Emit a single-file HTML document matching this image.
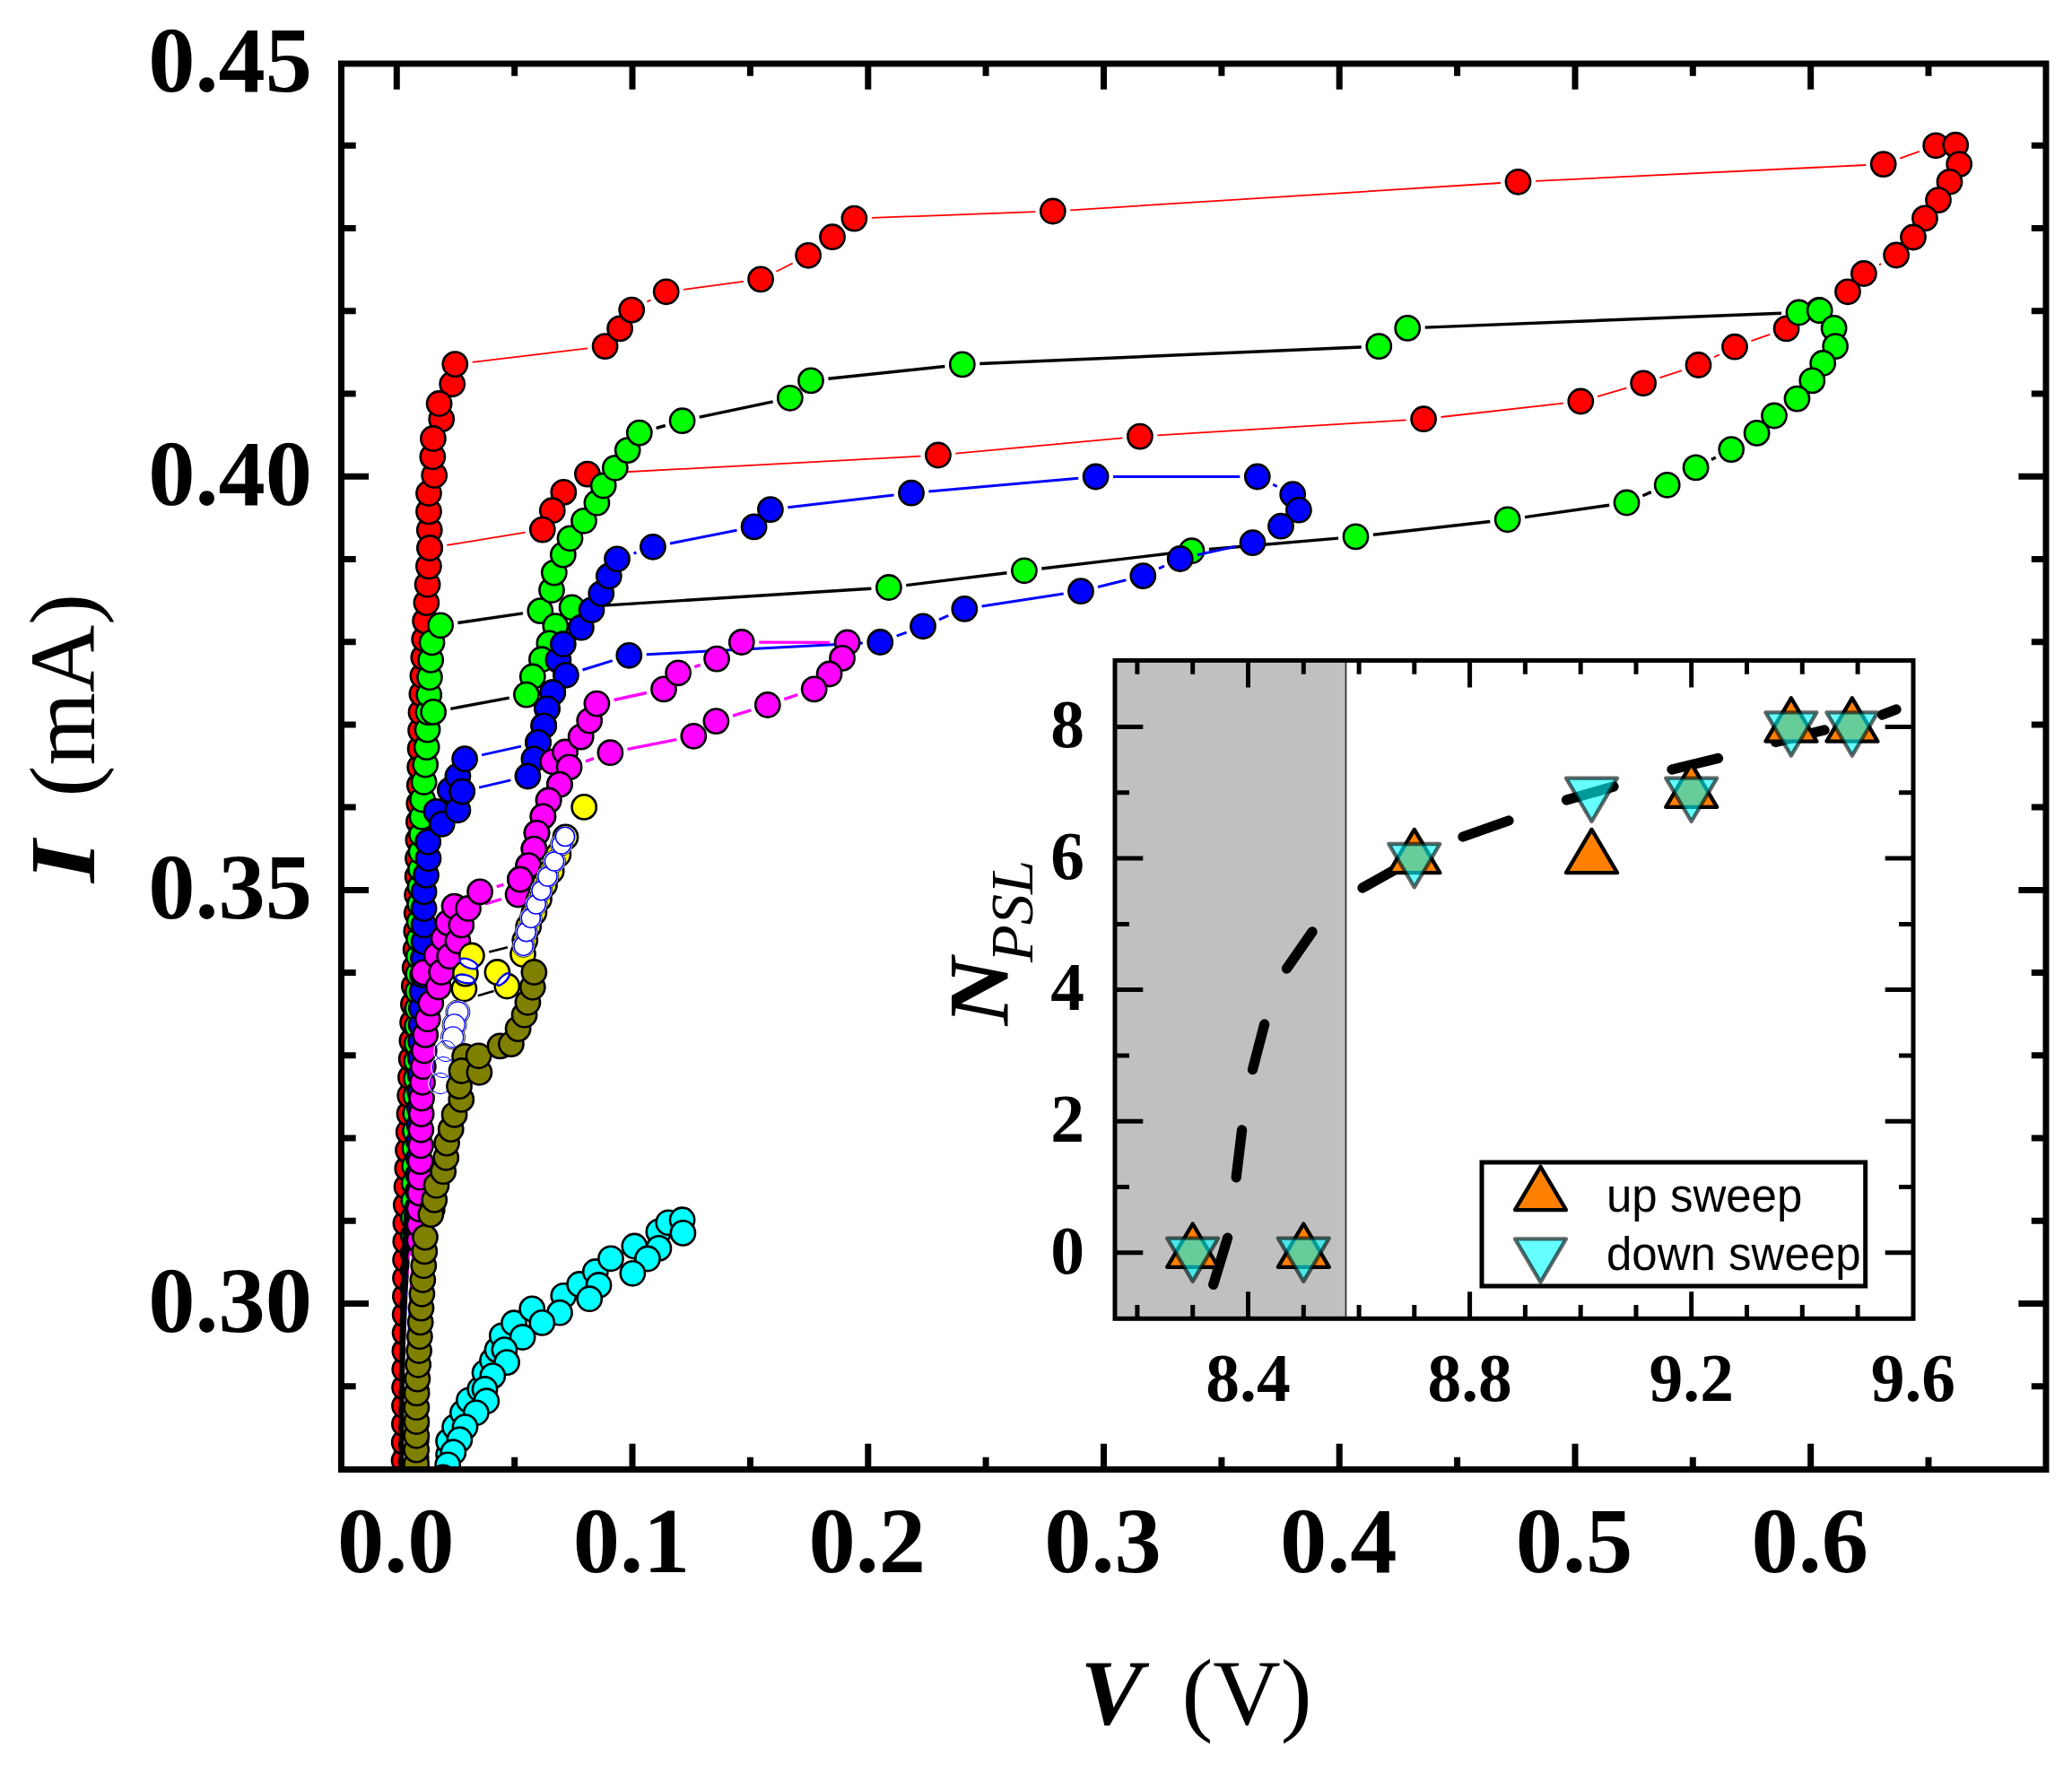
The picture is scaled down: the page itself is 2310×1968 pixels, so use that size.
<!DOCTYPE html>
<html lang="en"><head><meta charset="utf-8"><title>I-V curves</title>
<style>html,body{margin:0;padding:0;background:#fff}svg{display:block}</style></head>
<body>
<svg width="2310" height="1968" viewBox="0 0 2310 1968">
<rect width="2310" height="1968" fill="#fff"/>
<defs><clipPath id="pc"><rect x="380.5" y="71" width="1900.5" height="1567.5"/></clipPath></defs>
<g stroke="#000" stroke-width="7" fill="none" stroke-linecap="butt">
<path d="M442.3 1638.5v-28.8M442.3 71v28.8M573.7 1638.5v-13.8M573.7 71v13.8M705 1638.5v-28.8M705 71v28.8M836.4 1638.5v-13.8M836.4 71v13.8M967.8 1638.5v-28.8M967.8 71v28.8M1099.1 1638.5v-13.8M1099.1 71v13.8M1230.5 1638.5v-28.8M1230.5 71v28.8M1361.9 1638.5v-13.8M1361.9 71v13.8M1493.2 1638.5v-28.8M1493.2 71v28.8M1624.6 1638.5v-13.8M1624.6 71v13.8M1756 1638.5v-28.8M1756 71v28.8M1887.3 1638.5v-13.8M1887.3 71v13.8M2018.7 1638.5v-28.8M2018.7 71v28.8M2150 1638.5v-13.8M2150 71v13.8M380.5 1545.7h16.2M2281 1545.7h-16.2M380.5 1453.5h30.6M2281 1453.5h-30.6M380.5 1361.3h16.2M2281 1361.3h-16.2M380.5 1269h16.2M2281 1269h-16.2M380.5 1176.8h16.2M2281 1176.8h-16.2M380.5 1084.6h16.2M2281 1084.6h-16.2M380.5 992.4h30.6M2281 992.4h-30.6M380.5 900.1h16.2M2281 900.1h-16.2M380.5 807.9h16.2M2281 807.9h-16.2M380.5 715.7h16.2M2281 715.7h-16.2M380.5 623.4h16.2M2281 623.4h-16.2M380.5 531.2h30.6M2281 531.2h-30.6M380.5 439h16.2M2281 439h-16.2M380.5 346.7h16.2M2281 346.7h-16.2M380.5 254.5h16.2M2281 254.5h-16.2M380.5 162.3h16.2M2281 162.3h-16.2"/>
</g>
<g clip-path="url(#pc)">
<path d="M526.7 403.8L655.2 388.4M721.4 336.5L725.5 334.4M762 322.8L828.8 313.9M865.5 302.7L883.7 293.5M971.9 242.9L1154.3 236.2M1193.3 234.3L1673 204M1712 201.9L2080.2 184M2118.1 176.6L2139.8 168.8M2097.1 294.1L2094.9 295.4M2011 355.4L2008.6 356.8M1973.2 372.9L1952.4 380.2M1916.6 395.4L1910.9 398.3M1875 413.1L1850.6 421.2M1813.4 432.7L1781 442.1M1742.9 449.7L1606.5 465M1567.6 468.4L1290.4 485.4M1251.5 488.4L1065.3 505.7M1026.4 508.6L674.4 527.5M585.6 593.7L498.3 607.9" fill="none" stroke="#f00" stroke-width="1.8"/>
<g fill="#f00" stroke="#000" stroke-width="2.6"><circle cx="450.5" cy="1648.9" r="13.6"/><circle cx="450.6" cy="1628.5" r="13.6"/><circle cx="450.7" cy="1608.2" r="13.6"/><circle cx="450.9" cy="1587.8" r="13.6"/><circle cx="451" cy="1567.5" r="13.6"/><circle cx="451.1" cy="1547.1" r="13.6"/><circle cx="451.3" cy="1526.8" r="13.6"/><circle cx="451.4" cy="1506.4" r="13.6"/><circle cx="451.6" cy="1486.1" r="13.6"/><circle cx="451.7" cy="1465.7" r="13.6"/><circle cx="451.9" cy="1445.4" r="13.6"/><circle cx="452" cy="1425" r="13.6"/><circle cx="452.1" cy="1404.7" r="13.6"/><circle cx="452.3" cy="1384.3" r="13.6"/><circle cx="452.4" cy="1364" r="13.6"/><circle cx="452.8" cy="1343.6" r="13.6"/><circle cx="453.5" cy="1323.2" r="13.6"/><circle cx="454.3" cy="1302.9" r="13.6"/><circle cx="455" cy="1282.6" r="13.6"/><circle cx="455.7" cy="1262.2" r="13.6"/><circle cx="456.5" cy="1241.9" r="13.6"/><circle cx="457.2" cy="1221.5" r="13.6"/><circle cx="457.9" cy="1201.2" r="13.6"/><circle cx="458.7" cy="1180.8" r="13.6"/><circle cx="459.4" cy="1160.5" r="13.6"/><circle cx="460.1" cy="1140.1" r="13.6"/><circle cx="460.9" cy="1119.8" r="13.6"/><circle cx="461.8" cy="1099.4" r="13.6"/><circle cx="462.7" cy="1079.1" r="13.6"/><circle cx="463.6" cy="1058.7" r="13.6"/><circle cx="464.3" cy="1038.4" r="13.6"/><circle cx="464.7" cy="1018" r="13.6"/><circle cx="465.1" cy="997.7" r="13.6"/><circle cx="465.6" cy="977.3" r="13.6"/><circle cx="466" cy="957" r="13.6"/><circle cx="466.4" cy="936.6" r="13.6"/><circle cx="466.9" cy="916.3" r="13.6"/><circle cx="467.3" cy="895.9" r="13.6"/><circle cx="467.8" cy="875.6" r="13.6"/><circle cx="468.2" cy="855.2" r="13.6"/><circle cx="468.6" cy="834.9" r="13.6"/><circle cx="469.1" cy="814.5" r="13.6"/><circle cx="469.5" cy="794.2" r="13.6"/><circle cx="470.4" cy="773.8" r="13.6"/><circle cx="471.4" cy="753.5" r="13.6"/><circle cx="472.3" cy="733.1" r="13.6"/><circle cx="473.2" cy="712.8" r="13.6"/><circle cx="474.1" cy="692.4" r="13.6"/><circle cx="475.4" cy="672.1" r="13.6"/><circle cx="476.6" cy="651.7" r="13.6"/><circle cx="477.9" cy="631.4" r="13.6"/><circle cx="479.1" cy="611" r="13.6"/><circle cx="478.8" cy="591" r="13.6"/><circle cx="478" cy="570.4" r="13.6"/><circle cx="478" cy="550" r="13.6"/><circle cx="484.2" cy="530" r="13.6"/><circle cx="482.3" cy="509.4" r="13.6"/><circle cx="492.2" cy="467.4" r="13.6"/><circle cx="482.9" cy="489" r="13.6"/><circle cx="504.2" cy="428.3" r="13.6"/><circle cx="489.6" cy="450" r="13.6"/><circle cx="507.3" cy="406.1" r="13.6"/><circle cx="674.6" cy="386.1" r="13.6"/><circle cx="691.1" cy="366.4" r="13.6"/><circle cx="704.2" cy="345.6" r="13.6"/><circle cx="742.7" cy="325.3" r="13.6"/><circle cx="848.1" cy="311.4" r="13.6"/><circle cx="901.1" cy="284.8" r="13.6"/><circle cx="928" cy="264.2" r="13.6"/><circle cx="952.4" cy="243.6" r="13.6"/><circle cx="1173.8" cy="235.5" r="13.6"/><circle cx="1692.5" cy="202.8" r="13.6"/><circle cx="2099.7" cy="183.1" r="13.6"/><circle cx="2158.2" cy="162.3" r="13.6"/><circle cx="2180.2" cy="161.7" r="13.6"/><circle cx="2184.2" cy="183.1" r="13.6"/><circle cx="2173.5" cy="202.8" r="13.6"/><circle cx="2161" cy="223.1" r="13.6"/><circle cx="2146" cy="243.4" r="13.6"/><circle cx="2133" cy="264.5" r="13.6"/><circle cx="2114.1" cy="284.5" r="13.6"/><circle cx="2077.9" cy="305" r="13.6"/><circle cx="2060" cy="325.3" r="13.6"/><circle cx="2028" cy="345.8" r="13.6"/><circle cx="1991.6" cy="366.4" r="13.6"/><circle cx="1934" cy="386.7" r="13.6"/><circle cx="1893.5" cy="407" r="13.6"/><circle cx="1832.1" cy="427.3" r="13.6"/><circle cx="1762.3" cy="447.5" r="13.6"/><circle cx="1587.1" cy="467.2" r="13.6"/><circle cx="1270.9" cy="486.6" r="13.6"/><circle cx="1045.9" cy="507.5" r="13.6"/><circle cx="654.9" cy="528.6" r="13.6"/><circle cx="628.3" cy="548.9" r="13.6"/><circle cx="615.8" cy="569.2" r="13.6"/><circle cx="604.8" cy="590.6" r="13.6"/><circle cx="479.1" cy="611" r="13.6"/></g>
<path d="M510.4 694.5L583 683.9M731.6 477.3L741.8 474.5M779.7 465.2L861.7 447.8M923.4 422.3L1053.4 408.5M1092.3 405.5L1517.8 387M1588.7 365.1L1986 349.3M1912.8 510L1908 512.5M1840.8 548.6L1831.4 552.7M1794.2 563.2L1700 576.6M1661.3 581.5L1530.9 596.2M1492.1 600.1L1347.9 612.5M1309.1 616.5L1161.3 634M1122.5 638.7L1010.3 652.6M971.4 656.2L657.1 676.1M567.7 778.2L502.3 790.3" fill="none" stroke="#000" stroke-width="3.4"/>
<g fill="#0f0" stroke="#000" stroke-width="2.6"><circle cx="458.5" cy="1650" r="13.6"/><circle cx="458.7" cy="1630.5" r="13.6"/><circle cx="458.8" cy="1611.1" r="13.6"/><circle cx="459" cy="1591.7" r="13.6"/><circle cx="459.2" cy="1572.2" r="13.6"/><circle cx="459.3" cy="1552.8" r="13.6"/><circle cx="459.5" cy="1533.3" r="13.6"/><circle cx="459.6" cy="1513.8" r="13.6"/><circle cx="459.8" cy="1494.4" r="13.6"/><circle cx="460" cy="1475" r="13.6"/><circle cx="460.1" cy="1455.5" r="13.6"/><circle cx="460.3" cy="1436" r="13.6"/><circle cx="460.5" cy="1416.6" r="13.6"/><circle cx="460.6" cy="1397.2" r="13.6"/><circle cx="460.8" cy="1377.7" r="13.6"/><circle cx="460.9" cy="1358.2" r="13.6"/><circle cx="461.3" cy="1338.8" r="13.6"/><circle cx="461.6" cy="1319.3" r="13.6"/><circle cx="462" cy="1299.9" r="13.6"/><circle cx="462.4" cy="1280.5" r="13.6"/><circle cx="462.8" cy="1261" r="13.6"/><circle cx="463.2" cy="1241.5" r="13.6"/><circle cx="463.5" cy="1222.1" r="13.6"/><circle cx="463.9" cy="1202.7" r="13.6"/><circle cx="464.3" cy="1183.2" r="13.6"/><circle cx="464.7" cy="1163.8" r="13.6"/><circle cx="465" cy="1144.3" r="13.6"/><circle cx="465.4" cy="1124.8" r="13.6"/><circle cx="465.8" cy="1105.4" r="13.6"/><circle cx="466.2" cy="1086" r="13.6"/><circle cx="466.7" cy="1066.5" r="13.6"/><circle cx="467.1" cy="1047.1" r="13.6"/><circle cx="467.6" cy="1027.6" r="13.6"/><circle cx="468.1" cy="1008.1" r="13.6"/><circle cx="468.5" cy="988.7" r="13.6"/><circle cx="469" cy="969.2" r="13.6"/><circle cx="469.5" cy="949.8" r="13.6"/><circle cx="470" cy="930.4" r="13.6"/><circle cx="470.5" cy="910.9" r="13.6"/><circle cx="471" cy="891.5" r="13.6"/><circle cx="472.6" cy="872" r="13.6"/><circle cx="474.2" cy="852.6" r="13.6"/><circle cx="475.7" cy="833.1" r="13.6"/><circle cx="476.6" cy="813.6" r="13.6"/><circle cx="477.4" cy="794.2" r="13.6"/><circle cx="478.2" cy="774.8" r="13.6"/><circle cx="479" cy="755.3" r="13.6"/><circle cx="480.2" cy="735.9" r="13.6"/><circle cx="481.5" cy="716.4" r="13.6"/><circle cx="491.1" cy="697.3" r="13.6"/><circle cx="602.3" cy="681.1" r="13.6"/><circle cx="615" cy="658" r="13.6"/><circle cx="617.8" cy="638.6" r="13.6"/><circle cx="627.8" cy="618.6" r="13.6"/><circle cx="635.5" cy="600.3" r="13.6"/><circle cx="651" cy="580.8" r="13.6"/><circle cx="665.4" cy="560.7" r="13.6"/><circle cx="672.7" cy="541.5" r="13.6"/><circle cx="685.8" cy="521.8" r="13.6"/><circle cx="699.7" cy="502.1" r="13.6"/><circle cx="712.8" cy="482.6" r="13.6"/><circle cx="760.6" cy="469.2" r="13.6"/><circle cx="880.8" cy="443.8" r="13.6"/><circle cx="904" cy="424.4" r="13.6"/><circle cx="1072.8" cy="406.4" r="13.6"/><circle cx="1537.3" cy="386.1" r="13.6"/><circle cx="1569.2" cy="365.9" r="13.6"/><circle cx="2005.5" cy="348.5" r="13.6"/><circle cx="2028.7" cy="346.2" r="13.6"/><circle cx="2044.6" cy="365.9" r="13.6"/><circle cx="2046.1" cy="386.1" r="13.6"/><circle cx="2032.2" cy="405" r="13.6"/><circle cx="2020.3" cy="424.4" r="13.6"/><circle cx="2003.5" cy="444.6" r="13.6"/><circle cx="1978" cy="463.5" r="13.6"/><circle cx="1958.6" cy="482.9" r="13.6"/><circle cx="1930.2" cy="501.1" r="13.6"/><circle cx="1890.6" cy="521.4" r="13.6"/><circle cx="1858.7" cy="540.8" r="13.6"/><circle cx="1813.5" cy="560.5" r="13.6"/><circle cx="1680.7" cy="579.3" r="13.6"/><circle cx="1511.5" cy="598.4" r="13.6"/><circle cx="1328.5" cy="614.2" r="13.6"/><circle cx="1141.9" cy="636.3" r="13.6"/><circle cx="990.9" cy="655" r="13.6"/><circle cx="637.6" cy="677.3" r="13.6"/><circle cx="619.3" cy="698.1" r="13.6"/><circle cx="612.4" cy="717.4" r="13.6"/><circle cx="603.9" cy="735.2" r="13.6"/><circle cx="593.8" cy="754.5" r="13.6"/><circle cx="586.9" cy="774.6" r="13.6"/><circle cx="483.1" cy="793.9" r="13.6"/></g>
<path d="M447.8 1645L448 1560L449 1480L451 1400L453.5 1352" stroke="#000" stroke-width="6.5" fill="none"/>
<path d="M537.1 841.9L581 832.1M706.5 617.1L709.4 616M747 606L821.5 591.2M878.3 565.8L996.6 552M1035.4 548L1202.2 533.2M1241.1 531.5L1382.3 531.5M1419.2 540.2L1423.8 542.5M1377.5 609.4L1334.7 618.8M1298 631.2L1292 633.9M1255.4 646.8L1223.9 654.5M1185.7 662.1L1094.6 676M1057.3 686.4L1047 690.8M1010.7 705.1L999.6 709.2M961.8 717L720.8 729.8M682.7 736.6L649.5 747M569.4 869.9L534.1 878.1" fill="none" stroke="#00f" stroke-width="3"/>
<g fill="#00f" stroke="#000" stroke-width="2.6"><circle cx="463.5" cy="1643.7" r="13.6"/><circle cx="463.7" cy="1625.1" r="13.6"/><circle cx="463.8" cy="1606.6" r="13.6"/><circle cx="463.9" cy="1588" r="13.6"/><circle cx="464" cy="1569.5" r="13.6"/><circle cx="464.2" cy="1550.9" r="13.6"/><circle cx="464.3" cy="1532.4" r="13.6"/><circle cx="464.4" cy="1513.8" r="13.6"/><circle cx="464.5" cy="1495.3" r="13.6"/><circle cx="464.7" cy="1476.7" r="13.6"/><circle cx="464.8" cy="1458.2" r="13.6"/><circle cx="464.9" cy="1439.6" r="13.6"/><circle cx="465" cy="1421.1" r="13.6"/><circle cx="465.2" cy="1402.5" r="13.6"/><circle cx="465.3" cy="1384" r="13.6"/><circle cx="465.4" cy="1365.4" r="13.6"/><circle cx="465.6" cy="1346.9" r="13.6"/><circle cx="466" cy="1328.3" r="13.6"/><circle cx="466.3" cy="1309.8" r="13.6"/><circle cx="466.7" cy="1291.2" r="13.6"/><circle cx="467" cy="1272.7" r="13.6"/><circle cx="467.4" cy="1254.1" r="13.6"/><circle cx="467.8" cy="1235.6" r="13.6"/><circle cx="468.1" cy="1217" r="13.6"/><circle cx="468.5" cy="1198.5" r="13.6"/><circle cx="468.9" cy="1179.9" r="13.6"/><circle cx="469.2" cy="1161.4" r="13.6"/><circle cx="469.6" cy="1142.8" r="13.6"/><circle cx="469.9" cy="1124.3" r="13.6"/><circle cx="470.6" cy="1105.7" r="13.6"/><circle cx="471.2" cy="1087.2" r="13.6"/><circle cx="471.9" cy="1068.6" r="13.6"/><circle cx="472.6" cy="1050.1" r="13.6"/><circle cx="472.6" cy="1031.5" r="13.6"/><circle cx="472.6" cy="1013" r="13.6"/><circle cx="472.6" cy="994.4" r="13.6"/><circle cx="475" cy="975.9" r="13.6"/><circle cx="477.5" cy="957.3" r="13.6"/><circle cx="477.2" cy="938.8" r="13.6"/><circle cx="486.5" cy="904.9" r="13.6"/><circle cx="492.7" cy="918.8" r="13.6"/><circle cx="501.9" cy="880.9" r="13.6"/><circle cx="510.4" cy="903.3" r="13.6"/><circle cx="515.1" cy="882.5" r="13.6"/><circle cx="510.4" cy="865.5" r="13.6"/><circle cx="518.1" cy="846.2" r="13.6"/><circle cx="600" cy="827.8" r="13.6"/><circle cx="606.2" cy="809.3" r="13.6"/><circle cx="610" cy="790.3" r="13.6"/><circle cx="616.2" cy="772.2" r="13.6"/><circle cx="622.4" cy="735.9" r="13.6"/><circle cx="627.8" cy="718.2" r="13.6"/><circle cx="647.9" cy="699.7" r="13.6"/><circle cx="659.5" cy="680.3" r="13.6"/><circle cx="670.3" cy="661.8" r="13.6"/><circle cx="678.8" cy="642.5" r="13.6"/><circle cx="688" cy="623.3" r="13.6"/><circle cx="727.9" cy="609.8" r="13.6"/><circle cx="840.6" cy="587.4" r="13.6"/><circle cx="858.9" cy="568.1" r="13.6"/><circle cx="1016" cy="549.7" r="13.6"/><circle cx="1221.6" cy="531.5" r="13.6"/><circle cx="1401.8" cy="531.5" r="13.6"/><circle cx="1441.2" cy="551.2" r="13.6"/><circle cx="1447.9" cy="568.7" r="13.6"/><circle cx="1428" cy="586.7" r="13.6"/><circle cx="1396.5" cy="605.2" r="13.6"/><circle cx="1315.7" cy="623" r="13.6"/><circle cx="1274.3" cy="642.1" r="13.6"/><circle cx="1205" cy="659.2" r="13.6"/><circle cx="1075.3" cy="678.9" r="13.6"/><circle cx="1029" cy="698.3" r="13.6"/><circle cx="981.3" cy="716" r="13.6"/><circle cx="701.3" cy="730.8" r="13.6"/><circle cx="630.9" cy="752.8" r="13.6"/><circle cx="616.2" cy="772.2" r="13.6"/><circle cx="610" cy="790.3" r="13.6"/><circle cx="606.2" cy="809.3" r="13.6"/><circle cx="600" cy="827.8" r="13.6"/><circle cx="595.4" cy="846.3" r="13.6"/><circle cx="588.4" cy="865.5" r="13.6"/><circle cx="515.1" cy="882.5" r="13.6"/></g>
<g fill="#f0f" stroke="#000" stroke-width="2.6"><circle cx="472.4" cy="1084.4" r="13.6"/><circle cx="486.7" cy="1065.4" r="13.6"/><circle cx="494.6" cy="1046.3" r="13.6"/><circle cx="499.4" cy="1028.9" r="13.6"/><circle cx="506.5" cy="1010.6" r="13.6"/></g>
<path d="M540.8 1007.8L558.8 1002.7M684.5 780.5L720.9 772.5M774.4 743.6L780.8 741.3M846.3 716.1L925.1 716.4M889.2 774.7L874.3 779.7M837.2 791.9L817 798.2M754.2 824.6L699.5 835.4M662 845.7L653 848.9M561.3 986.3L553.7 988.6" fill="none" stroke="#f0f" stroke-width="3.4"/>
<g fill="#f0f" stroke="#000" stroke-width="2.6"><circle cx="467.3" cy="1453.9" r="13.6"/><circle cx="467.4" cy="1436.3" r="13.6"/><circle cx="467.4" cy="1418.6" r="13.6"/><circle cx="467.4" cy="1401" r="13.6"/><circle cx="467.4" cy="1383.3" r="13.6"/><circle cx="467.5" cy="1365.7" r="13.6"/><circle cx="467.5" cy="1348" r="13.6"/><circle cx="467.9" cy="1330.4" r="13.6"/><circle cx="468.3" cy="1312.7" r="13.6"/><circle cx="468.6" cy="1295.1" r="13.6"/><circle cx="469" cy="1277.4" r="13.6"/><circle cx="469.3" cy="1259.8" r="13.6"/><circle cx="469.7" cy="1242.1" r="13.6"/><circle cx="470.1" cy="1224.5" r="13.6"/><circle cx="471" cy="1206.8" r="13.6"/><circle cx="471.8" cy="1189.2" r="13.6"/><circle cx="472.8" cy="1171.5" r="13.6"/><circle cx="474.2" cy="1153.9" r="13.6"/><circle cx="476.8" cy="1136.2" r="13.6"/><circle cx="480.3" cy="1118.6" r="13.6"/><circle cx="488.8" cy="1100.5" r="13.6"/><circle cx="492.1" cy="1084" r="13.6"/><circle cx="501.2" cy="1066.3" r="13.6"/><circle cx="510.4" cy="1049.3" r="13.6"/><circle cx="514.3" cy="1031.5" r="13.6"/><circle cx="522" cy="1013" r="13.6"/><circle cx="577.6" cy="997.5" r="13.6"/><circle cx="579.9" cy="980.5" r="13.6"/><circle cx="589.2" cy="965.1" r="13.6"/><circle cx="595.4" cy="946.6" r="13.6"/><circle cx="598.5" cy="928.8" r="13.6"/><circle cx="605.4" cy="910.3" r="13.6"/><circle cx="611.6" cy="892.5" r="13.6"/><circle cx="623.9" cy="874.7" r="13.6"/><circle cx="616.2" cy="849.3" r="13.6"/><circle cx="630.1" cy="838.5" r="13.6"/><circle cx="647.7" cy="821.6" r="13.6"/><circle cx="657.2" cy="803.6" r="13.6"/><circle cx="665.4" cy="784.6" r="13.6"/><circle cx="740" cy="768.4" r="13.6"/><circle cx="756.1" cy="750.3" r="13.6"/><circle cx="799.1" cy="734.6" r="13.6"/><circle cx="826.8" cy="716" r="13.6"/><circle cx="944.6" cy="716.5" r="13.6"/><circle cx="939" cy="733.9" r="13.6"/><circle cx="924.6" cy="751.5" r="13.6"/><circle cx="907.7" cy="768.4" r="13.6"/><circle cx="855.8" cy="786" r="13.6"/><circle cx="798.4" cy="804.1" r="13.6"/><circle cx="773.3" cy="820.8" r="13.6"/><circle cx="680.4" cy="839.2" r="13.6"/><circle cx="634.6" cy="855.4" r="13.6"/><circle cx="623.9" cy="874.7" r="13.6"/><circle cx="611.6" cy="892.5" r="13.6"/><circle cx="605.4" cy="910.3" r="13.6"/><circle cx="598.5" cy="928.8" r="13.6"/><circle cx="595.4" cy="946.6" r="13.6"/><circle cx="589.2" cy="965.1" r="13.6"/><circle cx="579.9" cy="980.5" r="13.6"/><circle cx="535.1" cy="994.4" r="13.6"/></g>
<path d="M545.2 1061.6L566 1056.2M532.8 1110.3L550.6 1104.9" stroke="#000" stroke-width="2.6" fill="none"/>
<g fill="#ff0" stroke="#000" stroke-width="2.6"><circle cx="517.4" cy="1102.5" r="13.6"/><circle cx="565.3" cy="1099.5" r="13.6"/><circle cx="518.9" cy="1085.6" r="13.6"/><circle cx="554.4" cy="1084" r="13.6"/><circle cx="525.9" cy="1065.5" r="13.6"/><circle cx="583" cy="1064" r="13.6"/><circle cx="585.3" cy="1048.5" r="13.6"/><circle cx="589.2" cy="1033" r="13.6"/><circle cx="595.4" cy="1017.6" r="13.6"/><circle cx="601" cy="1002.5" r="13.6"/><circle cx="607" cy="986.7" r="13.6"/><circle cx="614.7" cy="971.3" r="13.6"/><circle cx="622.4" cy="952.7" r="13.6"/><circle cx="630.5" cy="933.4" r="13.6"/><circle cx="651.2" cy="899.9" r="13.6"/></g>
<g fill="#fff" stroke="#000" stroke-width="0.9"><circle cx="583.6" cy="1054.8" r="12.6"/><circle cx="586.8" cy="1039.2" r="12.6"/><circle cx="591.8" cy="1023.8" r="12.6"/><circle cx="597.7" cy="1008.5" r="12.6"/><circle cx="603.5" cy="993.1" r="12.6"/><circle cx="610.4" cy="977.5" r="12.6"/><circle cx="618" cy="960.5" r="12.6"/><circle cx="626" cy="941.5" r="12.6"/></g>
<g fill="#fff" stroke="#00f" stroke-width="1.5"><circle cx="583.6" cy="1054.8" r="10.6"/><circle cx="586.8" cy="1039.2" r="10.6"/><circle cx="591.8" cy="1023.8" r="10.6"/><circle cx="597.7" cy="1008.5" r="10.6"/><circle cx="603.5" cy="993.1" r="10.6"/><circle cx="610.4" cy="977.5" r="10.6"/><circle cx="618" cy="960.5" r="10.6"/><circle cx="626" cy="941.5" r="10.6"/><circle cx="630" cy="932.9" r="10.6"/></g>
<g fill="#fff" stroke="#000" stroke-width="0.9"><circle cx="510.4" cy="1128.6" r="13.6"/><circle cx="506.6" cy="1142.5" r="13.6"/><circle cx="505" cy="1156.4" r="13.6"/></g>
<g fill="#fff" stroke="#00f" stroke-width="1.3"><circle cx="510.4" cy="1128.6" r="11.6"/><circle cx="506.6" cy="1142.5" r="11.6"/><circle cx="505" cy="1156.4" r="11.6"/></g>
<g fill="none" stroke="#fff" stroke-width="1"><circle cx="497" cy="1172" r="13.4"/><circle cx="494" cy="1190" r="13.4"/><circle cx="491" cy="1208" r="13.4"/></g>
<g fill="none" stroke="#00f" stroke-width="1"><circle cx="497" cy="1172" r="11.6"/><circle cx="494" cy="1190" r="11.6"/><circle cx="491" cy="1208" r="11.6"/></g>
<g fill="#fff" stroke="#00f" stroke-width="2.3"><ellipse cx="522.5" cy="1074.5" rx="10.5" ry="4.6" transform="rotate(22 522.5 1074.5)"/><ellipse cx="518.5" cy="1091.5" rx="10.5" ry="4.6" transform="rotate(12 518.5 1091.5)"/><ellipse cx="561" cy="1092" rx="9" ry="3.2" transform="rotate(-45 561 1092)"/></g>
<path d="M451.3 1640L451.6 1560L453 1500L455.5 1440L458 1400" stroke="#fff" stroke-width="1.8" fill="none"/>
<g fill="#808000" stroke="#000" stroke-width="2.6"><circle cx="464.1" cy="1648.2" r="13.6"/><circle cx="464.2" cy="1632.4" r="13.6"/><circle cx="464.2" cy="1616.6" r="13.6"/><circle cx="464.3" cy="1600.8" r="13.6"/><circle cx="464.4" cy="1585" r="13.6"/><circle cx="464.4" cy="1569.2" r="13.6"/><circle cx="464.6" cy="1553.4" r="13.6"/><circle cx="465.4" cy="1537.6" r="13.6"/><circle cx="466.2" cy="1521.8" r="13.6"/><circle cx="467.1" cy="1506" r="13.6"/><circle cx="467.9" cy="1490.2" r="13.6"/><circle cx="468.7" cy="1474.4" r="13.6"/><circle cx="469.5" cy="1458.6" r="13.6"/><circle cx="470.4" cy="1442.8" r="13.6"/><circle cx="471.3" cy="1427" r="13.6"/><circle cx="472.3" cy="1411.2" r="13.6"/><circle cx="473.3" cy="1395.4" r="13.6"/><circle cx="474" cy="1379.6" r="13.6"/><circle cx="481.7" cy="1348.8" r="13.6"/><circle cx="480.3" cy="1354.1" r="13.6"/><circle cx="484.2" cy="1337.9" r="13.6"/><circle cx="486.5" cy="1321.7" r="13.6"/><circle cx="494.2" cy="1306.2" r="13.6"/><circle cx="497.3" cy="1290.8" r="13.6"/><circle cx="498.1" cy="1274.6" r="13.6"/><circle cx="502.7" cy="1259.1" r="13.6"/><circle cx="506.6" cy="1242.9" r="13.6"/><circle cx="514.3" cy="1225.9" r="13.6"/><circle cx="512" cy="1211.2" r="13.6"/><circle cx="518.1" cy="1178" r="13.6"/><circle cx="514.5" cy="1194" r="13.6"/><circle cx="534.4" cy="1195.8" r="13.6"/><circle cx="533.6" cy="1177.3" r="13.6"/><circle cx="557.5" cy="1166.4" r="13.6"/><circle cx="569.9" cy="1164.1" r="13.6"/><circle cx="577.6" cy="1147.1" r="13.6"/><circle cx="584.6" cy="1131.7" r="13.6"/><circle cx="588.4" cy="1117.8" r="13.6"/><circle cx="593.8" cy="1100.8" r="13.6"/><circle cx="595.4" cy="1084" r="13.6"/></g>
<g fill="#0ff" stroke="#000" stroke-width="2.6"><circle cx="500.1" cy="1622" r="13.6"/><circle cx="500.1" cy="1606.9" r="13.6"/><circle cx="507.1" cy="1591.1" r="13.6"/><circle cx="515.9" cy="1575.3" r="13.6"/><circle cx="522.9" cy="1561.3" r="13.6"/><circle cx="535.2" cy="1549" r="13.6"/><circle cx="540.5" cy="1530.6" r="13.6"/><circle cx="549" cy="1517" r="13.6"/><circle cx="554.5" cy="1505.1" r="13.6"/><circle cx="559.8" cy="1489.3" r="13.6"/><circle cx="573" cy="1475.2" r="13.6"/><circle cx="593.2" cy="1459.4" r="13.6"/><circle cx="628.3" cy="1444.8" r="13.6"/><circle cx="646.1" cy="1432" r="13.6"/><circle cx="663.8" cy="1418" r="13.6"/><circle cx="681" cy="1403.3" r="13.6"/><circle cx="707.3" cy="1389.5" r="13.6"/><circle cx="734.4" cy="1373.4" r="13.6"/><circle cx="745.2" cy="1363.3" r="13.6"/><circle cx="760.6" cy="1360.2" r="13.6"/><circle cx="761.4" cy="1374.9" r="13.6"/><circle cx="734.4" cy="1391.9" r="13.6"/><circle cx="722" cy="1403.5" r="13.6"/><circle cx="705.3" cy="1419.8" r="13.6"/><circle cx="667.5" cy="1433" r="13.6"/><circle cx="657.2" cy="1448.2" r="13.6"/><circle cx="624" cy="1463.7" r="13.6"/><circle cx="604.3" cy="1474.9" r="13.6"/><circle cx="582.6" cy="1491" r="13.6"/><circle cx="562.4" cy="1505.1" r="13.6"/><circle cx="565.1" cy="1519.1" r="13.6"/><circle cx="549.3" cy="1534.1" r="13.6"/><circle cx="540.5" cy="1549" r="13.6"/><circle cx="542.3" cy="1562.2" r="13.6"/><circle cx="530.8" cy="1575.3" r="13.6"/><circle cx="518.5" cy="1591.1" r="13.6"/><circle cx="512.4" cy="1605.2" r="13.6"/><circle cx="505.4" cy="1619.2" r="13.6"/><circle cx="499.2" cy="1633.3" r="13.6"/><circle cx="494" cy="1647.5" r="13.6"/></g>
</g>
<rect x="380.5" y="71" width="1900.5" height="1567.5" fill="none" stroke="#000" stroke-width="7"/>
<g font-family="'Liberation Serif',serif" font-weight="bold" font-size="104.5px" fill="#000">
<text x="441.3" y="1753" text-anchor="middle">0.0</text>
<text x="704" y="1753" text-anchor="middle">0.1</text>
<text x="966.8" y="1753" text-anchor="middle">0.2</text>
<text x="1229.5" y="1753" text-anchor="middle">0.3</text>
<text x="1492.2" y="1753" text-anchor="middle">0.4</text>
<text x="1755" y="1753" text-anchor="middle">0.5</text>
<text x="2017.7" y="1753" text-anchor="middle">0.6</text>
<text x="348" y="1485.1" text-anchor="end">0.30</text>
<text x="348" y="1024" text-anchor="end">0.35</text>
<text x="348" y="562.8" text-anchor="end">0.40</text>
<text x="348" y="101.7" text-anchor="end">0.45</text>
</g>
<g font-family="'Liberation Serif',serif" font-size="104.5px" fill="#000">
<text transform="translate(105 984) rotate(-90) scale(1.17 1)" font-size="103px" font-weight="bold" font-style="italic">I</text>
<text transform="translate(105 888.4) rotate(-90)">(mA)</text>
<text x="1204.5" y="1921.5" font-weight="bold" font-style="italic">V</text>
<text x="1317.5" y="1921.5">(V)</text>
</g>
<rect x="1243" y="736.4" width="890" height="733.9" fill="#fff"/>
<rect x="1243" y="736.4" width="257.5" height="733.9" fill="#c0c0c0"/>
<line x1="1500.5" y1="736.4" x2="1500.5" y2="1470.3" stroke="#222" stroke-width="1.6"/>
<path d="M1352.7 1432.4L1368.6 1380.2M1378.2 1312.8L1384.6 1260M1396.5 1192.6L1409.7 1142M1434.5 1080L1463 1039M1519 990L1560 967M1631 933L1682 915M1746.5 892L1799 877M1864 858L1915.5 845.5M1979.5 827.5L2034 814M2098.5 797L2114 791" stroke="#000" stroke-width="11.3" stroke-linecap="round" fill="none"/>
<path d="M1329.7 1364.5L1358.2 1412.8L1301.2 1412.8ZM1453.3 1364.5L1481.8 1412.8L1424.8 1412.8ZM1576.8 924.9L1605.3 973.2L1548.3 973.2ZM1774.5 924.9L1803 973.2L1746 973.2ZM1885.7 851.6L1914.2 899.9L1857.2 899.9ZM1996.9 778.3L2025.4 826.6L1968.4 826.6ZM2064.9 778.3L2093.4 826.6L2036.4 826.6Z" fill="#ff8000" stroke="#000" stroke-width="4.3" stroke-linejoin="round"/>
<path d="M1329.7 1428.9L1358.2 1380.6L1301.2 1380.6Z" fill="#0ff" fill-opacity="0.6" stroke="#000" stroke-opacity="0.6" stroke-width="4.3" stroke-linejoin="round"/>
<path d="M1453.3 1428.9L1481.8 1380.6L1424.8 1380.6Z" fill="#0ff" fill-opacity="0.6" stroke="#000" stroke-opacity="0.6" stroke-width="4.3" stroke-linejoin="round"/>
<path d="M1576.8 989.3L1605.3 941L1548.3 941Z" fill="#0ff" fill-opacity="0.6" stroke="#000" stroke-opacity="0.6" stroke-width="4.3" stroke-linejoin="round"/>
<path d="M1774.5 916L1803 867.7L1746 867.7Z" fill="#0ff" fill-opacity="0.6" stroke="#000" stroke-opacity="0.6" stroke-width="4.3" stroke-linejoin="round"/>
<path d="M1885.7 916L1914.2 867.7L1857.2 867.7Z" fill="#0ff" fill-opacity="0.6" stroke="#000" stroke-opacity="0.6" stroke-width="4.3" stroke-linejoin="round"/>
<path d="M1996.9 842.7L2025.4 794.4L1968.4 794.4Z" fill="#0ff" fill-opacity="0.6" stroke="#000" stroke-opacity="0.6" stroke-width="4.3" stroke-linejoin="round"/>
<path d="M2064.9 842.7L2093.4 794.4L2036.4 794.4Z" fill="#0ff" fill-opacity="0.6" stroke="#000" stroke-opacity="0.6" stroke-width="4.3" stroke-linejoin="round"/>
<rect x="1652" y="1296" width="427.7" height="138" fill="#fff" stroke="#000" stroke-width="5"/>
<path d="M1717.5 1300.8L1746 1349.1L1689 1349.1Z" fill="#ff8000" stroke="#000" stroke-width="4.3" stroke-linejoin="round"/>
<path d="M1717.5 1429.7L1746 1381.4L1689 1381.4Z" fill="#0ff" fill-opacity="0.6" stroke="#000" stroke-opacity="0.6" stroke-width="4.3" stroke-linejoin="round"/>
<g font-family="'Liberation Sans',sans-serif" font-size="51px" fill="#000">
<text x="1791" y="1350.5">up sweep</text>
<text x="1791" y="1415.5">down sweep</text>
</g>
<g stroke="#000" stroke-width="5" fill="none">
<rect x="1243" y="736.4" width="890" height="733.9"/>
<path d="M1267.9 1470.3v-15.3M1267.9 736.4v15.3M1329.7 1470.3v-15.3M1329.7 736.4v15.3M1391.5 1470.3v-30M1391.5 736.4v30M1453.3 1470.3v-15.3M1453.3 736.4v15.3M1515.1 1470.3v-15.3M1515.1 736.4v15.3M1576.8 1470.3v-15.3M1576.8 736.4v15.3M1638.6 1470.3v-30M1638.6 736.4v30M1700.4 1470.3v-15.3M1700.4 736.4v15.3M1762.2 1470.3v-15.3M1762.2 736.4v15.3M1824 1470.3v-15.3M1824 736.4v15.3M1885.7 1470.3v-30M1885.7 736.4v30M1947.5 1470.3v-15.3M1947.5 736.4v15.3M2009.3 1470.3v-15.3M2009.3 736.4v15.3M2071.1 1470.3v-15.3M2071.1 736.4v15.3M1243 1396.7h31.3M2133 1396.7h-31.3M1243 1323.4h16M2133 1323.4h-16M1243 1250.2h31.3M2133 1250.2h-31.3M1243 1176.9h16M2133 1176.9h-16M1243 1103.6h31.3M2133 1103.6h-31.3M1243 1030.4h16M2133 1030.4h-16M1243 957.1h31.3M2133 957.1h-31.3M1243 883.8h16M2133 883.8h-16M1243 810.5h31.3M2133 810.5h-31.3"/>
</g>
<g font-family="'Liberation Serif',serif" font-weight="bold" font-size="75.5px" fill="#000">
<text x="1391.5" y="1562" text-anchor="middle">8.4</text>
<text x="1638.6" y="1562" text-anchor="middle">8.8</text>
<text x="1885.7" y="1562" text-anchor="middle">9.2</text>
<text x="2132.9" y="1562" text-anchor="middle">9.6</text>
<text x="1209" y="1419.5" text-anchor="end">0</text>
<text x="1209" y="1273" text-anchor="end">2</text>
<text x="1209" y="1126.4" text-anchor="end">4</text>
<text x="1209" y="979.9" text-anchor="end">6</text>
<text x="1209" y="833.3" text-anchor="end">8</text>
</g>
<g font-family="'Liberation Serif',serif" fill="#000">
<text transform="translate(1124.3 1143.5) rotate(-90) scale(1.1 1)" font-size="96px" font-weight="bold" font-style="italic">N</text>
<text transform="translate(1150.8 1073) rotate(-90)" font-size="68.5px" font-style="italic">PSL</text>
</g>
</svg>
</body></html>
